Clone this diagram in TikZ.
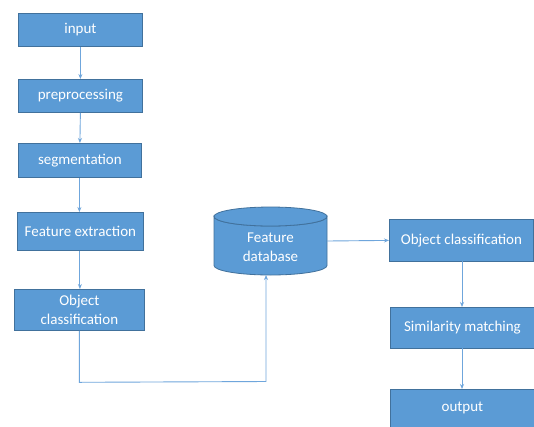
\documentclass[tikz,border=0pt]{standalone}
\usepackage{fontspec}
\setmainfont{Carlito}
\usetikzlibrary{arrows.meta,calc}
\definecolor{boxfill}{HTML}{5B9BD5}
\definecolor{boxline}{HTML}{41719C}
\definecolor{conn}{HTML}{6FA6DC}
\begin{document}
\begin{tikzpicture}[x=1pt,y=-1pt,
  box/.style={draw=boxline,fill=boxfill,line width=0.8pt,text=white,font=\fontsize{15}{19}\selectfont,align=center,inner sep=0pt,anchor=north west},
  conn/.style={draw=conn,line width=0.9pt},
  arr/.style={conn,-{Stealth[length=5pt,width=4pt]}}]
\useasboundingbox[fill=white] (0,0) rectangle (534,426);
% left column
\node[box,minimum width=124pt,minimum height=33pt] (in) at (18,13) {input};
\node[box,minimum width=124pt,minimum height=33pt] (pre) at (18,79) {preprocessing};
\node[box,minimum width=123pt,minimum height=34pt] (seg) at (18,143) {segmentation};
\node[box,minimum width=126pt,minimum height=38pt] (fe) at (17,212) {Feature extraction};
\node[box,minimum width=130pt,minimum height=41pt] (oc1) at (14,289) {Object\\classification};
% cylinder
\node[inner sep=0pt,minimum width=113pt,minimum height=68pt] (db) at (270.5,241) {};
\fill[boxfill,draw=boxline,line width=0.8pt]
  (214,216.5) -- (214,265.5) arc[start angle=180,end angle=360,x radius=56.5pt,y radius=9.5pt]
  -- (327,216.5) arc[start angle=0,end angle=-180,x radius=56.5pt,y radius=9.5pt] -- cycle;
\filldraw[fill=boxfill,draw=boxline,line width=0.8pt] (270.5,216.5) ellipse[x radius=56.5pt,y radius=9.5pt];
\node[text=white,font=\fontsize{15}{18.5}\selectfont,align=center] (dbt) at (270.5,247) {Feature\\database};
% right column
\node[box,minimum width=144pt,minimum height=42pt] (oc2) at (389,219) {Object classification};
\node[box,minimum width=144pt,minimum height=41pt] (sim) at (390,307) {Similarity matching};
\node[box,minimum width=144pt,minimum height=38pt] (out) at (390,389) {output};
% connectors
\draw[arr] (in.south) -- (pre.north);
\draw[arr] (pre.south) -- (seg.north);
\draw[arr] ([xshift=-0.5pt]seg.south) -- ([xshift=-0.5pt]seg.south |- fe.north);
\draw[arr] ([xshift=-0.5pt]fe.south) -- ([xshift=-0.5pt]fe.south |- oc1.north);
\coordinate (c1) at ($(oc1.south)+(0,51.5)$);
\coordinate (c2) at (266,381.5);
\coordinate (c3) at (266,275);
\draw[arr] (oc1.south) -- (c1) -- (c2) -- (c3);
\draw[arr] (db.east) -- (oc2.west);
\coordinate (r1) at (462,261);
\coordinate (r2) at (462,348);
\draw[arr] (r1) -- (r1 |- sim.north);
\draw[arr] (r2) -- (r2 |- out.north);
\end{tikzpicture}
\end{document}
